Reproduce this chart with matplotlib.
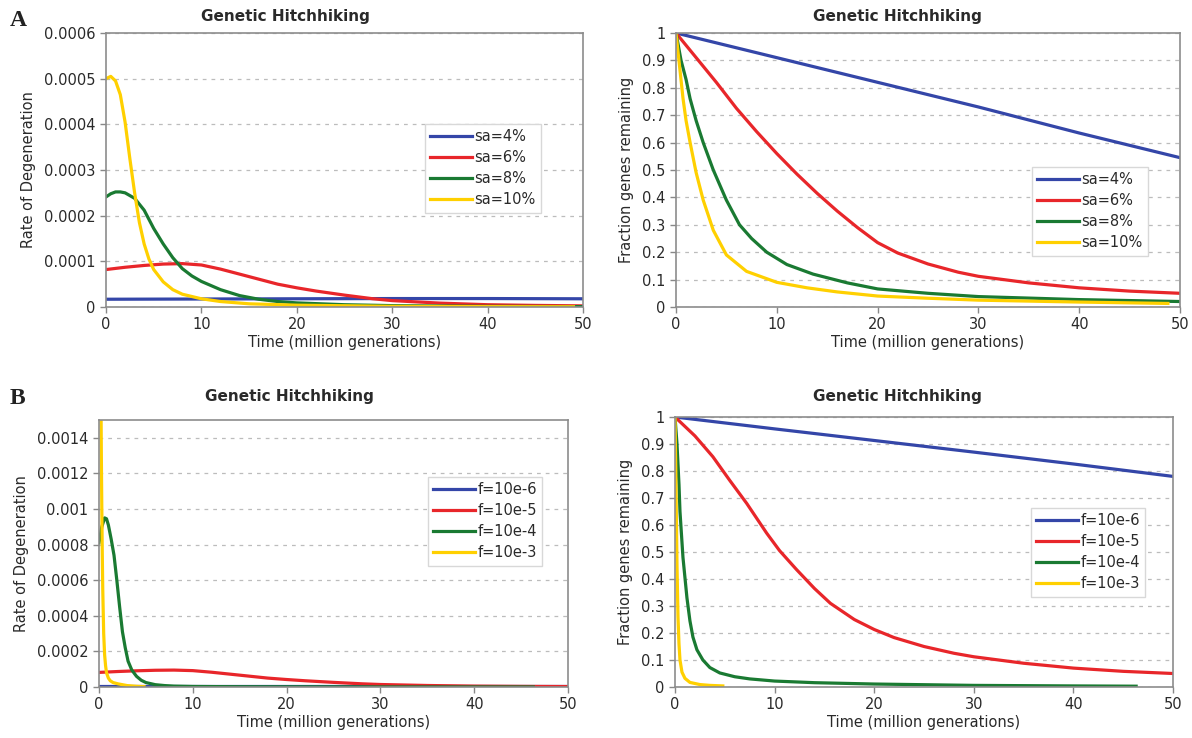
import matplotlib
matplotlib.use("Agg")
import matplotlib.pyplot as plt

# ---- data ----
sa_labels = ["sa=4%", "sa=6%", "sa=8%", "sa=10%"]
f_labels = ["f=10e-6", "f=10e-5", "f=10e-4", "f=10e-3"]
colors = ["#3446a8", "#e8262a", "#1a7a32", "#ffd000"]

# rate of degeneration, panel A
rate_a_blue_x = [0, 10, 20, 30, 40, 50]
rate_a_blue_y = [1.7e-5, 1.75e-5, 1.8e-5, 1.85e-5, 1.85e-5, 1.8e-5]
rate_a_red_x = [0, 2, 4, 6, 8, 10, 12, 14, 16, 18, 20, 22, 25, 28, 30, 35, 40, 45, 50]
rate_a_red_y = [8.2e-5, 8.7e-5, 9.1e-5, 9.4e-5, 9.5e-5, 9.2e-5, 8.3e-5, 7.2e-5, 6.1e-5,
                5.0e-5, 4.2e-5, 3.5e-5, 2.6e-5, 1.8e-5, 1.4e-5, 0.85e-5, 0.5e-5, 0.35e-5, 0.25e-5]
rate_a_green_x = [0, 0.5, 1, 1.5, 2, 3, 4, 5, 6, 7, 8, 9, 10, 12, 14, 16, 18, 20, 25, 30, 40, 50]
rate_a_green_y = [2.41e-4, 2.48e-4, 2.52e-4, 2.52e-4, 2.50e-4, 2.38e-4, 2.12e-4, 1.72e-4, 1.38e-4,
                  1.08e-4, 0.84e-4, 0.68e-4, 0.56e-4, 0.38e-4, 0.25e-4, 0.17e-4, 0.12e-4, 0.09e-4,
                  0.05e-4, 0.03e-4, 0.015e-4, 0.008e-4]
rate_a_yellow_x = [0, 0.5, 1, 1.5, 2, 2.5, 3, 3.5, 4, 4.5, 5, 6, 7, 8, 10, 12, 15, 20, 30, 40, 49]
rate_a_yellow_y = [5.0e-4, 5.05e-4, 4.95e-4, 4.65e-4, 4.05e-4, 3.25e-4, 2.50e-4, 1.85e-4, 1.38e-4,
                   1.05e-4, 0.82e-4, 0.55e-4, 0.38e-4, 0.28e-4, 0.18e-4, 0.12e-4, 0.07e-4, 0.04e-4,
                   0.015e-4, 0.008e-4, 0.005e-4]

# fraction genes remaining, panel A
frac_a_blue_x = [0, 10, 20, 30, 40, 50]
frac_a_blue_y = [1, 0.91, 0.82, 0.73, 0.635, 0.545]
frac_a_red_x = [0, 2, 4, 6, 8, 10, 12, 14, 16, 18, 20, 22, 25, 28, 30, 35, 40, 45, 50]
frac_a_red_y = [1, 0.91, 0.82, 0.725, 0.64, 0.56, 0.485, 0.415, 0.35, 0.29, 0.235, 0.197, 0.157,
                0.127, 0.112, 0.088, 0.07, 0.058, 0.05]
frac_a_green_x = [0, 0.5, 1, 1.4, 2, 2.7, 3.7, 5, 6.3, 7.5, 9, 11, 13.6, 17, 20, 25, 30, 40, 50]
frac_a_green_y = [1, 0.9, 0.83, 0.76, 0.68, 0.6, 0.5, 0.39, 0.3, 0.25, 0.2, 0.155, 0.12, 0.088,
                  0.066, 0.05, 0.038, 0.027, 0.02]
frac_a_yellow_x = [0, 0.35, 0.7, 1.0, 1.4, 2, 2.7, 3.7, 5, 7, 10, 13, 16, 20, 25, 30, 40, 48.8]
frac_a_yellow_y = [1, 0.88, 0.76, 0.68, 0.6, 0.49, 0.39, 0.28, 0.19, 0.13, 0.09, 0.07, 0.055,
                   0.04, 0.032, 0.025, 0.018, 0.013]

# rate of degeneration, panel B
rate_b_blue_x = [0, 10, 20, 30, 40, 50]
rate_b_blue_y = [0.8e-5, 0.8e-5, 0.8e-5, 0.8e-5, 0.8e-5, 0.8e-5]
rate_b_red_x = rate_a_red_x
rate_b_red_y = rate_a_red_y
rate_b_green_x = [0, 0.3, 0.6, 0.8, 1.0, 1.3, 1.6, 1.9, 2.2, 2.5, 2.8, 3.1, 3.5, 4, 4.5, 5, 6, 7, 8,
                  10, 15, 20, 30, 46.3]
rate_b_green_y = [8.1e-4, 9.0e-4, 9.5e-4, 9.45e-4, 9.1e-4, 8.3e-4, 7.4e-4, 6.0e-4, 4.5e-4, 3.1e-4,
                  2.2e-4, 1.45e-4, 0.95e-4, 0.6e-4, 0.38e-4, 0.25e-4, 0.13e-4, 0.08e-4, 0.05e-4,
                  0.03e-4, 0.015e-4, 0.01e-4, 0.005e-4, 0.003e-4]
rate_b_yellow_x = [0.05, 0.15, 0.2, 0.25, 0.3, 0.35, 0.4, 0.5, 0.6, 0.7, 0.8, 1.0, 1.2, 1.5, 2, 3, 4, 4.8]
rate_b_yellow_y = [4.0e-3, 2.2e-3, 1.7e-3, 1.3e-3, 1.0e-3, 0.75e-3, 0.55e-3, 0.3e-3, 0.18e-3,
                   0.12e-3, 0.08e-3, 0.05e-3, 0.035e-3, 0.025e-3, 0.018e-3, 0.008e-3, 0.004e-3, 0.002e-3]

# fraction genes remaining, panel B
frac_b_blue_x = [0, 10, 20, 30, 40, 50]
frac_b_blue_y = [1, 0.956, 0.913, 0.87, 0.826, 0.78]
frac_b_red_x = [0, 2, 3.8, 5.5, 7.2, 9.2, 10.5, 12.2, 14, 15.6, 18, 20, 22, 25, 28, 30, 35, 40, 45, 50]
frac_b_red_y = [1, 0.93, 0.853, 0.765, 0.68, 0.57, 0.505, 0.435, 0.365, 0.31, 0.25, 0.213, 0.183,
                0.15, 0.125, 0.112, 0.088, 0.07, 0.058, 0.05]
frac_b_green_x = [0, 0.2, 0.4, 0.5, 0.8, 1.2, 1.5, 1.8, 2.2, 2.8, 3.5, 4.5, 6, 7.5, 10, 14, 20, 30, 40, 46.3]
frac_b_green_y = [1, 0.9, 0.75, 0.65, 0.48, 0.33, 0.245, 0.185, 0.138, 0.1, 0.072, 0.052, 0.038,
                  0.03, 0.022, 0.016, 0.011, 0.006, 0.004, 0.003]
frac_b_yellow_x = [0, 0.08, 0.15, 0.2, 0.3, 0.4, 0.5, 0.7, 1.0, 1.5, 2.5, 3.5, 4.8]
frac_b_yellow_y = [1, 0.8, 0.6, 0.45, 0.26, 0.16, 0.1, 0.055, 0.032, 0.017, 0.009, 0.006, 0.004]

x_ticks = [0, 10, 20, 30, 40, 50]
rate_a_ticks = [0, 0.0001, 0.0002, 0.0003, 0.0004, 0.0005, 0.0006]
rate_a_labels = ["0", "0.0001", "0.0002", "0.0003", "0.0004", "0.0005", "0.0006"]
rate_b_ticks = [0, 0.0002, 0.0004, 0.0006, 0.0008, 0.001, 0.0012, 0.0014]
rate_b_labels = ["0", "0.0002", "0.0004", "0.0006", "0.0008", "0.001", "0.0012", "0.0014"]
frac_ticks = [0, 0.1, 0.2, 0.3, 0.4, 0.5, 0.6, 0.7, 0.8, 0.9, 1]
frac_labels = ["0", "0.1", "0.2", "0.3", "0.4", "0.5", "0.6", "0.7", "0.8", "0.9", "1"]

W, H = 1192, 738
plt.rcParams["font.family"] = "DejaVu Sans"
fig = plt.figure(figsize=(W / 100, H / 100), dpi=100)
TXT = "#2a2a2a"
FS = 10.5


def px_axes(l, t, r, b):
    return fig.add_axes([l / W, 1 - b / H, (r - l) / W, (b - t) / H])


def style(ax, ymax, yticks, ylabels, ylabel):
    ax.set_xlim(0, 50)
    ax.set_ylim(0, ymax)
    ax.set_xticks(x_ticks)
    ax.set_yticks(yticks)
    ax.set_yticklabels(ylabels)
    ax.tick_params(labelsize=FS, colors="#888888", labelcolor=TXT, length=4, width=1)
    for s in ax.spines.values():
        s.set_color("#8c8c8c")
        s.set_linewidth(1.2)
    ax.yaxis.grid(True, color="#bcbcbc", linestyle=(0, (3, 4)), linewidth=0.9)
    ax.set_axisbelow(True)
    ax.set_xlabel("Time (million generations)", fontsize=FS, color=TXT, labelpad=2)
    ax.set_ylabel(ylabel, fontsize=FS, color=TXT, labelpad=6)


def add_legend(ax, labels, l, t):
    leg = ax.legend(labels, loc="upper left", bbox_to_anchor=(l / W, 1 - t / H),
                    bbox_transform=fig.transFigure, borderaxespad=0, fontsize=FS,
                    frameon=True, fancybox=False, framealpha=1, edgecolor="#d8d8d8",
                    handlelength=2.9, handletextpad=0.15, labelspacing=0.42,
                    borderpad=0.35)
    leg.get_frame().set_linewidth(1.0)
    for t_ in leg.get_texts():
        t_.set_color(TXT)


LW = 2.3

# top left
ax1 = px_axes(106, 33, 583, 307)
ax1.plot(rate_a_blue_x, rate_a_blue_y, color=colors[0], lw=LW)
ax1.plot(rate_a_red_x, rate_a_red_y, color=colors[1], lw=LW)
ax1.plot(rate_a_green_x, rate_a_green_y, color=colors[2], lw=LW)
ax1.plot(rate_a_yellow_x, rate_a_yellow_y, color=colors[3], lw=LW)
style(ax1, 0.0006, rate_a_ticks, rate_a_labels, "Rate of Degeneration")
add_legend(ax1, sa_labels, 425, 124)

# top right
ax2 = px_axes(676, 33, 1180, 307)
ax2.plot(frac_a_blue_x, frac_a_blue_y, color=colors[0], lw=LW)
ax2.plot(frac_a_red_x, frac_a_red_y, color=colors[1], lw=LW)
ax2.plot(frac_a_green_x, frac_a_green_y, color=colors[2], lw=LW)
ax2.plot(frac_a_yellow_x, frac_a_yellow_y, color=colors[3], lw=LW)
style(ax2, 1, frac_ticks, frac_labels, "Fraction genes remaining")
add_legend(ax2, sa_labels, 1032, 167)

# bottom left
ax3 = px_axes(99, 420, 568, 687)
ax3.plot(rate_b_blue_x, rate_b_blue_y, color=colors[0], lw=LW)
ax3.plot(rate_b_red_x, rate_b_red_y, color=colors[1], lw=LW)
ax3.plot(rate_b_green_x, rate_b_green_y, color=colors[2], lw=LW)
ax3.plot(rate_b_yellow_x, rate_b_yellow_y, color=colors[3], lw=LW)
style(ax3, 0.0015, rate_b_ticks, rate_b_labels, "Rate of Degeneration")
add_legend(ax3, f_labels, 428, 477)

# bottom right
ax4 = px_axes(675, 417, 1173, 687)
ax4.plot(frac_b_blue_x, frac_b_blue_y, color=colors[0], lw=LW)
ax4.plot(frac_b_red_x, frac_b_red_y, color=colors[1], lw=LW)
ax4.plot(frac_b_green_x, frac_b_green_y, color=colors[2], lw=LW)
ax4.plot(frac_b_yellow_x, frac_b_yellow_y, color=colors[3], lw=LW)
style(ax4, 1, frac_ticks, frac_labels, "Fraction genes remaining")
add_legend(ax4, f_labels, 1031, 508)

# titles and panel letters
for (x, y) in [(285, 17), (897, 17), (289, 396), (897, 396)]:
    fig.text(x / W, 1 - y / H, "Genetic Hitchhiking", ha="center", va="center",
             fontsize=11, fontweight="bold", color=TXT)
fig.text(10 / W, 1 - 20 / H, "A", ha="left", va="center", fontsize=17,
         fontweight="bold", family="Liberation Serif", color="#222222")
fig.text(10 / W, 1 - 398 / H, "B", ha="left", va="center", fontsize=17,
         fontweight="bold", family="Liberation Serif", color="#222222")

fig.savefig("out.png", dpi=100)
